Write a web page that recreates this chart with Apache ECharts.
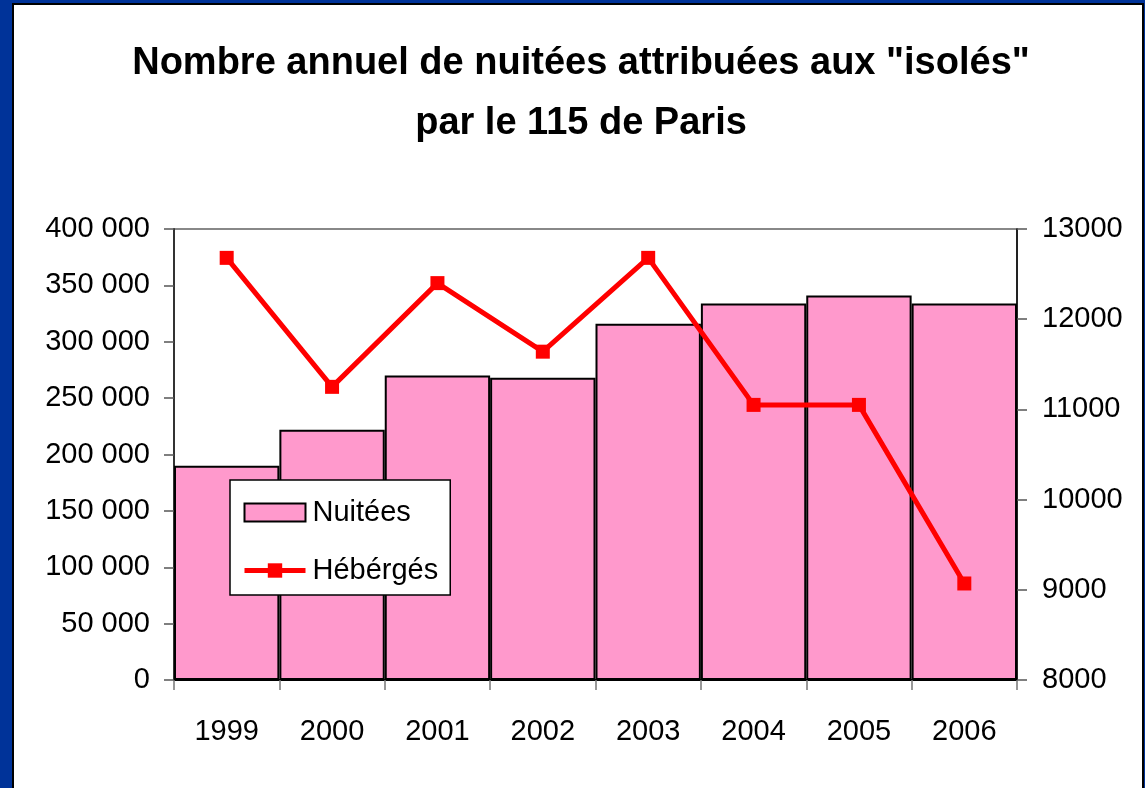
<!DOCTYPE html>
<html>
<head>
<meta charset="utf-8">
<script src="https://cdn.jsdelivr.net/npm/echarts@6/dist/echarts.min.js"></script>
<style>
  body { margin: 0; background: #003399; overflow: hidden; }
  #frame { position: absolute; left: 12px; top: 3px; width: 1128px; height: 800px; border: 2px solid #000; background: #fff; }
  #main { position: absolute; left: 0; top: 0; width: 1145px; height: 788px; }
</style>
</head>
<body>
<div id="frame"></div>
<div id="main"></div>
<script>
// données
var years = ['1999', '2000', '2001', '2002', '2003', '2004', '2005', '2006']
var nuitees = [190000, 222000, 270000, 268000, 316000, 334000, 341000, 334000]
var heberges = [12680, 11250, 12400, 11640, 12680, 11050, 11050, 9070]

var font = 'Liberation Sans, Arial, sans-serif'

function milliers(v) {
    return String(v).replace(/\B(?=(\d{3})+(?!\d))/g, ' ')
}

var myChart = echarts.init(document.getElementById('main'))
var option = {
    backgroundColor: 'transparent',
    animation: false,
    title: {
        text: 'Nombre annuel de nuitées attribuées aux "isolés"\npar le 115 de Paris',
        left: 576,
        top: 29,
        textAlign: 'center',
        textStyle: {
            fontFamily: font,
            fontWeight: 'bold',
            fontSize: 38,
            lineHeight: 60,
            color: '#000'
        }
    },
    legend: {
        orient: 'vertical',
        left: 230,
        top: 480,
        padding: [18, 12, 10, 12],
        itemGap: 29,
        itemWidth: 61,
        itemHeight: 18,
        backgroundColor: '#fff',
        borderColor: '#000',
        borderWidth: 1.5,
        borderRadius: 0,
        textStyle: { fontFamily: font, fontSize: 29, color: '#000', padding: [0, 0, 0, 2] },
        data: [
            { name: 'Nuitées', icon: 'rect' },
            { name: 'Hébérgés', lineStyle: { width: 5 } }
        ]
    },
    grid: {
        left: 174,
        right: 128,
        top: 229,
        bottom: 108,
        show: true,
        borderColor: '#888',
        borderWidth: 2,
        containLabel: false
    },
    xAxis: {
        type: 'category',
        data: years,
        axisLine: { lineStyle: { color: '#000', width: 2 } },
        axisTick: { show: true, length: 10, lineStyle: { color: '#777', width: 1.5 } },
        axisLabel: { fontFamily: font, fontSize: 29, color: '#000', margin: 37 }
    },
    yAxis: [
        {
            type: 'value',
            min: 0,
            max: 400000,
            interval: 50000,
            splitLine: { show: false },
            axisLine: { show: true, lineStyle: { color: '#333', width: 2 } },
            axisTick: { show: true, length: 10, lineStyle: { color: '#555', width: 1.5 } },
            axisLabel: { fontFamily: font, fontSize: 29, color: '#000', margin: 24, formatter: milliers }
        },
        {
            type: 'value',
            min: 8000,
            max: 13000,
            interval: 1000,
            splitLine: { show: false },
            axisLine: { show: true, lineStyle: { color: '#000', width: 1.5 } },
            axisTick: { show: true, length: 10, lineStyle: { color: '#555', width: 1.5 } },
            axisLabel: {
                fontFamily: font, fontSize: 29, color: '#000', margin: 25,
                formatter: function (v) { return String(v) }
            }
        }
    ],
    series: [
        {
            name: 'Nuitées',
            type: 'bar',
            data: nuitees,
            barCategoryGap: '0%',
            itemStyle: { color: '#FF99CC', borderColor: '#000', borderWidth: 2 }
        },
        {
            name: 'Hébérgés',
            type: 'line',
            yAxisIndex: 1,
            data: heberges,
            symbol: 'rect',
            symbolSize: 14,
            lineStyle: { color: '#FF0000', width: 5 },
            itemStyle: { color: '#FF0000' }
        }
    ]
}
myChart.setOption(option)
</script>
</body>
</html>
